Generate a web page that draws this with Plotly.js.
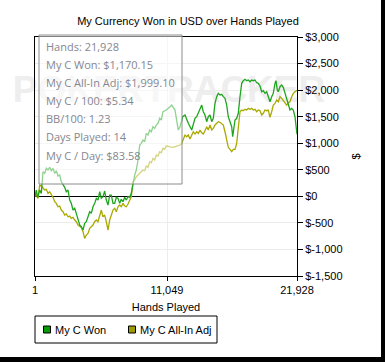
<!DOCTYPE html>
<html>
<head>
<meta charset="utf-8">
<script src="https://cdn.plot.ly/plotly-3.0.1.min.js"></script>
<style>
  html, body { margin: 0; padding: 0; background: #000; width: 385px; height: 362px; overflow: hidden; }
  #chart { width: 381px; height: 357px; background: #fff; }
</style>
</head>
<body>
<div id="chart"></div>
<script>
// ---- Data ----
const handsWon = [1,110,225,393,529,670,810,950,1089,1230,1366,1507,1650,1784,1926,2068,2202,2344,2487,2620,2763,2905,3039,3181,3323,3457,3600,3742,3876,4018,4160,4294,4436,4579,4713,4855,4997,5131,5273,5416,5550,5692,5834,5968,6110,6253,6387,6529,6671,6805,6947,7090,7224,7366,7508,7642,7784,7926,8060,8203,8345,8479,8621,8764,8898,9040,9182,9316,9458,9600,9734,9876,10019,10153,10295,10437,10571,10713,10990,11299,11442,11718,11860,11994,12136,12362,12555,12697,12831,13116,13250,13392,13534,13668,13810,13952,14086,14228,14370,14504,14647,14789,14923,15065,15207,15341,15483,15626,15760,15902,16044,16178,16320,16462,16546,16655,16739,16881,17015,17157,17299,17433,17576,17718,17852,17994,18136,18270,18412,18554,18688,18831,18973,19107,19249,19391,19525,19667,19810,19944,20086,20170,20280,20365,20505,20647,20781,20923,21065,21199,21341,21484,21618,21760,21928];
const myCWon = [0,119,-19,119,56,463,433,527,495,546,482,527,433,482,382,401,275,232,169,87,119,-70,-132,-258,-226,-320,-446,-540,-572,-635,-508,-478,-384,-290,-320,-196,-132,-38,-70,87,-38,-8,100,-70,-164,24,24,-132,-132,-19,-38,-132,-56,-102,-19,-70,-8,-19,56,275,401,495,684,966,998,1060,1028,1186,1154,1248,1216,1311,1280,1343,1375,1469,1437,1593,1625,1687,1719,1625,1375,1248,1311,1499,1531,1437,1375,1248,1375,1469,1499,1563,1625,1719,1593,1531,1405,1499,1531,1405,1469,1751,1876,1939,1907,1920,1876,1845,1719,1499,1405,1311,1122,1311,1437,1469,1563,1876,2128,2177,2203,2177,2190,2158,2190,2177,2190,2139,2128,2077,1970,1989,1939,1970,1876,1781,1876,1939,2128,2177,2002,1970,2064,2096,2052,1939,1876,1751,1625,1657,1625,1499,1170.15];

const handsAdj = [1,110,252,393,529,670,810,950,1089,1230,1366,1507,1650,1784,1926,2068,2202,2344,2487,2620,2763,2905,3039,3181,3323,3457,3600,3742,3876,4018,4160,4294,4436,4579,4713,4855,4997,5131,5273,5416,5550,5692,5834,5968,6110,6253,6387,6529,6671,6805,6947,7090,7224,7366,7508,7642,7784,7926,8060,8203,8345,8479,8621,8764,8898,9040,9182,9316,9458,9600,9734,9876,10019,10153,10295,10437,10571,10713,10855,10990,11299,11575,11860,12136,12278,12412,12555,12697,12831,12973,13116,13250,13392,13534,13668,13810,13952,14086,14228,14370,14504,14647,14789,14923,15065,15207,15341,15483,15626,15760,15902,16044,16178,16320,16462,16596,16739,16881,17015,17157,17299,17433,17576,17718,17852,17994,18136,18270,18412,18554,18688,18831,18973,19107,19249,19391,19525,19667,19810,19944,20086,20228,20365,20505,20647,20781,20923,21065,21199,21341,21484,21618,21760,21928];
const myCAllInAdj = [0,24,-38,213,194,151,119,132,56,87,43,-19,-102,-132,-196,-183,-258,-290,-352,-333,-384,-371,-414,-395,-446,-478,-540,-559,-584,-666,-791,-729,-697,-603,-572,-540,-478,-446,-478,-352,-258,-384,-352,-478,-635,-446,-371,-258,-226,-290,-196,-164,-196,-132,-183,-196,-145,-70,-8,275,307,369,401,433,463,495,482,571,546,652,633,716,684,778,759,840,821,904,885,950,930,923,947,966,998,1092,1154,1122,1154,1079,1154,1216,1173,1216,1186,1248,1198,1173,1235,1311,1248,1343,1248,1280,1343,1375,1405,1393,1375,1343,1216,1028,923,885,840,885,885,998,1311,1593,1625,1612,1638,1625,1657,1638,1657,1625,1638,1593,1625,1612,1531,1563,1625,1612,1625,1488,1593,1719,1751,1813,1781,1876,1845,1800,1751,1719,1763,1781,1876,1939,1970,1999.10];

const seriesNames = ['My C Won', 'My C All-In Adj'];
const xTickVals = [1, 11049, 21928];
const xTickText = ['1', '11,049', '21,928'];
const yTickVals = [-1500, -1000, -500, 0, 500, 1000, 1500, 2000, 2500, 3000];
const yTickText = ['$-1,500', '$-1,000', '$-500', '$0', '$500', '$1,000', '$1,500', '$2,000', '$2,500', '$3,000'];
const infoLines = ['Hands: 21,928', 'My C Won: $1,170.15', 'My C All-In Adj: $1,999.10', 'My C / 100: $5.34', 'BB/100: 1.23', 'Days Played: 14', 'My C / Day: $83.58'];

// ---- Layout geometry ----
const W = 381, H = 357;
const L = 35, R = 297, T = 37, B = 276;
const PW = R - L, PH = B - T;
const px = v => (v - L) / PW;       // pixel x -> paper
const py = v => (B - v) / PH;       // pixel y -> paper

const FONT = 'Liberation Sans, Arial, sans-serif';
const greenLine = '#1ea51e', oliveLine = '#a9a900';
const greenBox = '#079a07', oliveBox = '#9c9c00';

const traces = [
  { x: handsWon, y: myCWon, name: seriesNames[0], type: 'scatter', mode: 'lines',
    line: { color: greenLine, width: 1.3 }, showlegend: false, hoverinfo: 'skip' },
  { x: handsAdj, y: myCAllInAdj, name: seriesNames[1], type: 'scatter', mode: 'lines',
    line: { color: oliveLine, width: 1.3 }, showlegend: false, hoverinfo: 'skip' }
];
// draw Adj first so Won sits on top
traces.reverse();

const shapes = [
  // watermark
  { type: 'rect', xref: 'paper', yref: 'paper', x0: px(18), x1: px(320), y0: py(102), y1: py(68),
    line: { width: 0 }, fillcolor: 'rgba(0,0,0,0)', layer: 'below',
    label: { text: 'POKERTRACKER', font: { family: FONT, size: 37, color: '#eeeeee', weight: 'bold' }, textposition: 'middle center' } },
  // info box
  { type: 'rect', xref: 'paper', yref: 'paper', x0: px(39), x1: px(182), y0: py(184), y1: py(35),
    line: { color: '#8c8c8c', width: 1 }, fillcolor: 'rgba(255,255,255,0.5)', layer: 'above' },
  // legend box
  { type: 'rect', xref: 'paper', yref: 'paper', x0: px(35), x1: px(217), y0: py(343), y1: py(316),
    line: { color: '#000', width: 1 }, fillcolor: '#fff', layer: 'above' },
  { type: 'rect', xref: 'paper', yref: 'paper', x0: px(43.5), x1: px(50.5), y0: py(333), y1: py(326),
    line: { color: '#000', width: 1 }, fillcolor: greenBox, layer: 'above' },
  { type: 'rect', xref: 'paper', yref: 'paper', x0: px(128.5), x1: px(135.5), y0: py(333), y1: py(326),
    line: { color: '#000', width: 1 }, fillcolor: oliveBox, layer: 'above' }
];

const annotations = infoLines.map((t, i) => ({
  text: t, xref: 'paper', yref: 'paper', x: px(44), y: py(46.7 + i * 18.05),
  xanchor: 'left', yanchor: 'middle', showarrow: false,
  font: { family: 'Open Sans, sans-serif', size: 11, color: '#868690' }
}));
annotations.push(
  { text: seriesNames[0], xref: 'paper', yref: 'paper', x: px(53), y: py(329.5), xanchor: 'left', yanchor: 'middle',
    showarrow: false, font: { family: FONT, size: 11, color: '#000' } },
  { text: seriesNames[1], xref: 'paper', yref: 'paper', x: px(138), y: py(329.5), xanchor: 'left', yanchor: 'middle',
    showarrow: false, font: { family: FONT, size: 11, color: '#000' } }
);

const layout = {
  width: W, height: H,
  margin: { l: L, r: W - R, t: T, b: H - B, pad: 0 },
  paper_bgcolor: '#fff', plot_bgcolor: '#fff',
  showlegend: false,
  font: { family: FONT, size: 11, color: '#000' },
  title: { text: 'My Currency Won in USD over Hands Played', xref: 'container', yref: 'container',
    x: 188 / W, y: 1 - 21 / H, xanchor: 'center', yanchor: 'middle',
    font: { family: FONT, size: 11, color: '#000' } },
  xaxis: {
    range: [1, 21928], tickvals: xTickVals, ticktext: xTickText,
    showgrid: true, gridcolor: '#ececec', gridwidth: 1, zeroline: false,
    showline: true, linecolor: '#000', linewidth: 1, mirror: true,
    ticks: 'outside', ticklen: 4, tickcolor: '#000',
    tickfont: { family: FONT, size: 11, color: '#000' },
    title: { text: 'Hands Played', font: { family: FONT, size: 11, color: '#000' }, standoff: 8 },
    fixedrange: true
  },
  yaxis: {
    side: 'right', range: [-1500, 3000], tickvals: yTickVals, ticktext: yTickText,
    showgrid: true, gridcolor: '#ececec', gridwidth: 1,
    zeroline: true, zerolinecolor: '#000', zerolinewidth: 1,
    showline: true, linecolor: '#000', linewidth: 1, mirror: true,
    ticks: 'outside', ticklen: 5, tickcolor: '#000',
    tickfont: { family: FONT, size: 11, color: '#000' },
    title: { text: '$', font: { family: FONT, size: 11, color: '#000' }, standoff: 10 },
    fixedrange: true
  },
  shapes: shapes,
  annotations: annotations
};

Plotly.newPlot('chart', traces, layout, { displayModeBar: false, staticPlot: true });
</script>
</body>
</html>
